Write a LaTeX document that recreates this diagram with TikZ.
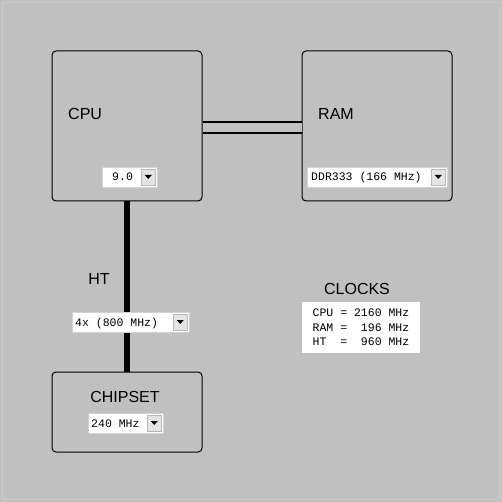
\documentclass[tikz,border=0pt]{standalone}
\usepackage{fontspec}
\setmainfont{Liberation Sans}
\setmonofont{Liberation Mono}
\usetikzlibrary{positioning}

\definecolor{panel}{HTML}{C0C0C0}
\definecolor{frame}{HTML}{CACACA}
\definecolor{btn}{HTML}{E4E4E4}

\tikzset{
  unit/.style={draw, line width=1pt, rounded corners=4pt, minimum width=150pt, minimum height=150pt, inner sep=0pt},
  title/.style={font=\fontsize{16}{19}\selectfont, inner sep=0pt},
  combo/.style={fill=white, draw=gray!35, line width=0.5pt, minimum height=20pt, inner sep=0pt, anchor=west},
  choice/.style={font=\ttfamily\fontsize{11.5}{14}\selectfont, inner sep=0pt, anchor=base west},
  dropbtn/.style={fill=btn, draw=gray!55, line width=0.5pt, minimum width=14pt, minimum height=16pt, inner sep=0pt, anchor=east},
  bus/.style={line width=6.5pt},
}

\begin{document}
\begin{tikzpicture}[x=1pt,y=-1pt]
\fill[panel] (0,0) rectangle (502,502);
\draw[frame] (2.5,2.5) rectangle (499.5,499.5);

% the three units
\node[unit] (cpu) at (127,126) {};
\node[unit] (ram) at (377,126) {};
\node[unit, minimum height=80pt] (chipset) at (127,412) {};

% buses
\draw[line width=2.5pt, double=panel, double distance=8.5pt] ([yshift=-1.5pt]cpu.east) -- ([yshift=-1.5pt]ram.west);
\draw[bus] (cpu.south) -- (chipset.north);

% titles
\node[title, anchor=west] (cpulabel) at (68,114) {CPU};
\node[title, anchor=west] (ramlabel) at (318,114) {RAM};
\node[title] (htlabel) at (99,279) {HT};
\node[title] (chiplabel) at (125,397) {CHIPSET};
\node[title] (clocklabel) at (357,289) {CLOCKS};

% drop-down boxes
\node[combo, minimum width=55pt] (cpuclk) at (102,177) {};
\node[choice] at ([xshift=10pt,yshift=-4pt]cpuclk.west) {9.0};
\node[dropbtn] (cpubtn) at ([xshift=-2pt]cpuclk.east) {};

\node[combo, minimum width=140pt] (ramclk) at (307,177) {};
\node[choice] at ([xshift=4pt,yshift=-4pt]ramclk.west) {DDR333 (166 MHz)};
\node[dropbtn] (rambtn) at ([xshift=-2pt]ramclk.east) {};

\node[combo, minimum width=117pt] (htclk) at (72,322) {};
\node[choice] at ([xshift=3pt,yshift=-4pt]htclk.west) {4x (800 MHz)};
\node[dropbtn] (htbtn) at ([xshift=-2pt]htclk.east) {};

\node[combo, minimum width=75pt] (chipclk) at (88,423) {};
\node[choice] at ([xshift=3pt,yshift=-4pt]chipclk.west) {240 MHz};
\node[dropbtn] (chipbtn) at ([xshift=-2pt]chipclk.east) {};

\foreach \b in {cpubtn,rambtn,htbtn,chipbtn}
  \fill ([xshift=-3.5pt,yshift=2pt]\b.center) -- ++(7pt,0) -- ++(-3.5pt,-4pt) -- cycle;

% clock readout
\node[fill=white, minimum width=118pt, minimum height=51pt, inner sep=0pt, align=left,
      font=\ttfamily\fontsize{11.5}{14.5}\selectfont] (clocks) at (361,327.5)
  {CPU = 2160 MHz\\RAM = \phantom{0}196 MHz\\HT\phantom{0} = \phantom{0}960 MHz};
\end{tikzpicture}
\end{document}
